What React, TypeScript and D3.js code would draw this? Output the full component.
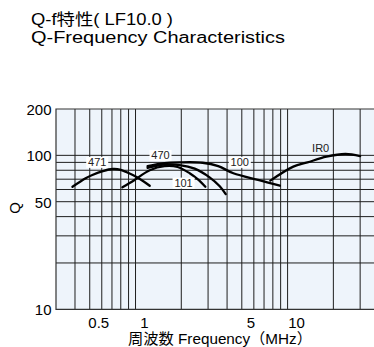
import React, { useRef, useEffect } from 'react';
import * as d3 from 'd3';

// grid / tick values
const xGrid = [0.4, 0.5, 0.6, 0.7, 0.8, 0.9, 1, 2, 3, 4, 5, 6, 7, 8, 9, 10, 20, 30];
const yGrid = [20, 30, 40, 50, 60, 70, 80, 90, 100];
const xTicks = [0.5, 1, 5, 10];
const yTicks = [10, 50, 100, 200];

// curves (MHz, Q)
const f471 = [0.385, 0.47, 0.52, 0.61, 0.71, 0.8, 0.96, 1.1, 1.24];
const q471 = [62.5, 71, 74.5, 79, 81.5, 80.5, 74.5, 69, 63.5];
const f101 = [0.82, 0.98, 1.24, 1.55, 1.89, 2.27, 2.56, 2.88];
const q101 = [62, 69, 80, 85, 84, 76.5, 70, 62.5];
const f470 = [1.2, 1.55, 1.95, 2.45, 3.07, 3.58, 3.92];
const q470 = [83, 87, 86.5, 82, 72, 63, 56];
const f100 = [1.2, 1.55, 1.95, 2.76, 3.5, 4.4, 6.5, 8.9];
const q100 = [85, 89, 90, 89.5, 85, 76.5, 69, 63.5];
const fIR0 = [7.7, 10.9, 13.5, 18, 24, 30];
const qIR0 = [68.5, 84.5, 90, 98, 102, 99];

const curveNames = ['471', '470', '101', '100', 'IR0'];
const labelFreq = [0.56, 1.46, 2.07, 4.85, 16.5];
const labelQ = [90, 100, 66, 90, 111];

const W = 374;
const H = 347;
const FONT = '"Liberation Sans", Arial, Helvetica, sans-serif';

export default function App() {
  const svgRef = useRef<SVGSVGElement>(null);

  useEffect(() => {
    const svg = d3.select(svgRef.current);
    svg.selectAll('*').remove();

    const x = d3.scaleLog().domain([0.3, 37]).range([56, 374]);
    const y = d3.scaleLog().domain([10, 200]).range([309.3, 109]);
    const [x0, x1] = x.range();
    const [yb, yt] = y.range();

    // titles
    svg.append('text')
      .attr('x', 31).attr('y', 24.5)
      .attr('font-family', FONT + ', "Noto Sans CJK JP"')
      .attr('font-size', 16)
      .attr('textLength', 142).attr('lengthAdjust', 'spacingAndGlyphs')
      .text('Q-f特性( LF10.0 )');
    svg.append('text')
      .attr('x', 31).attr('y', 42.5)
      .attr('font-family', FONT)
      .attr('font-size', 16)
      .attr('textLength', 254).attr('lengthAdjust', 'spacingAndGlyphs')
      .text('Q-Frequency Characteristics');

    // plot background
    svg.append('rect')
      .attr('x', x0).attr('y', yt)
      .attr('width', x1 - x0).attr('height', yb - yt)
      .attr('fill', '#eef4fb');

    const grid = svg.append('g').attr('stroke', '#1e1e1e').attr('stroke-width', 1);
    grid.selectAll('.vg')
      .data(xGrid)
      .join('line')
      .attr('class', 'vg')
      .attr('x1', d => x(d)).attr('x2', d => x(d))
      .attr('y1', yt).attr('y2', yb);
    grid.selectAll('.hg')
      .data(yGrid)
      .join('line')
      .attr('class', 'hg')
      .attr('x1', x0).attr('x2', x1)
      .attr('y1', d => y(d)).attr('y2', d => y(d));

    // frame (left, top, bottom)
    svg.append('path')
      .attr('d', `M${x1},${yt}H${x0}V${yb}H${x1}`)
      .attr('fill', 'none')
      .attr('stroke', '#333')
      .attr('stroke-width', 1.2);

    // curves
    const series = [
      f471.map((f, i) => [f, q471[i]]),
      f101.map((f, i) => [f, q101[i]]),
      f470.map((f, i) => [f, q470[i]]),
      f100.map((f, i) => [f, q100[i]]),
      fIR0.map((f, i) => [f, qIR0[i]]),
    ];
    const lineGenerator = d3.line<number[]>()
      .x(d => x(d[0]))
      .y(d => y(d[1]))
      .curve(d3.curveCatmullRom.alpha(0.5));
    svg.append('g')
      .selectAll('path')
      .data(series)
      .join('path')
      .attr('d', d => lineGenerator(d))
      .attr('fill', 'none')
      .attr('stroke', '#000')
      .attr('stroke-width', 2.3)
      .attr('stroke-linecap', 'round');

    // curve labels
    const labels = svg.append('g');
    curveNames.forEach((name, i) => {
      const cx = x(labelFreq[i]);
      const cy = y(labelQ[i]);
      const onGrid = yGrid.some(v => Math.abs(y(v) - cy) < 6);
      if (onGrid) {
        labels.append('rect')
          .attr('x', cx - 11).attr('y', cy - 5.5)
          .attr('width', 22).attr('height', 11)
          .attr('fill', '#fff');
      }
      labels.append('text')
        .attr('x', cx).attr('y', cy + 4)
        .attr('text-anchor', 'middle')
        .attr('font-family', FONT)
        .attr('font-size', 11)
        .attr('fill', '#222')
        .text(name);
    });

    // y tick labels
    svg.append('g')
      .selectAll('text')
      .data(yTicks)
      .join('text')
      .attr('x', 51.5)
      .attr('y', d => y(d) + 6)
      .attr('text-anchor', 'end')
      .attr('font-family', FONT)
      .attr('font-size', 15)
      .text(d => d);

    // x tick labels
    svg.append('g')
      .selectAll('text')
      .data(xTicks)
      .join('text')
      .attr('x', d => x(d) + 9)
      .attr('y', 327.5)
      .attr('text-anchor', 'middle')
      .attr('font-family', FONT)
      .attr('font-size', 15)
      .text(d => d);

    // axis titles
    svg.append('text')
      .attr('x', 128).attr('y', 343.5)
      .attr('font-family', FONT + ', "Noto Sans CJK JP"')
      .attr('font-size', 15)
      .attr('textLength', 184).attr('lengthAdjust', 'spacingAndGlyphs')
      .text('周波数  Frequency（MHz）');
    svg.append('text')
      .attr('transform', 'translate(20,208) rotate(-90)')
      .attr('text-anchor', 'middle')
      .attr('font-family', FONT)
      .attr('font-size', 15)
      .text('Q');
  }, []);

  return (
    <svg
      ref={svgRef}
      width={W}
      height={H}
      style={{ position: 'absolute', left: 0, top: 0, background: '#fff' }}
    />
  );
}
